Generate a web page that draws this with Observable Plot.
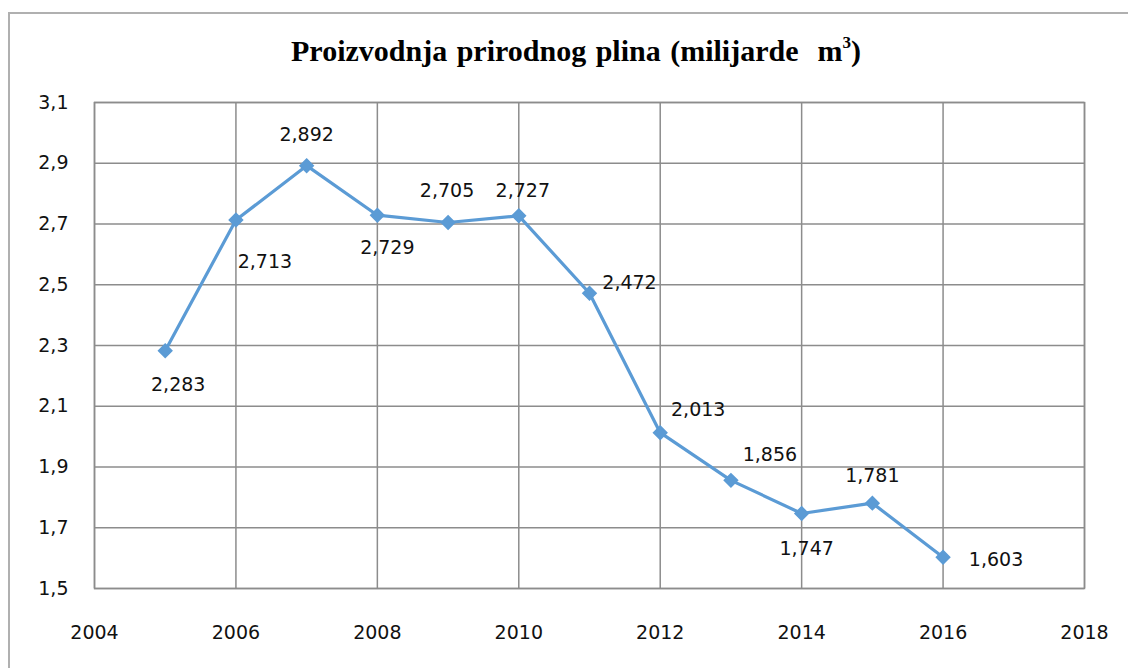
<!DOCTYPE html>
<html>
<head>
<meta charset="utf-8">
<script src="https://cdn.jsdelivr.net/npm/d3@7"></script>
<script src="https://cdn.jsdelivr.net/npm/@observablehq/plot@0.6"></script>
<style>
  html, body { margin: 0; padding: 0; background: #fff; }
  #wrap { position: relative; width: 1128px; height: 668px; overflow: hidden; }
  #frame { position: absolute; left: 8px; top: 12px; width: 1200px; height: 700px; border: 2px solid #b0b0b0; box-sizing: border-box; }
  #title { position: absolute; left: 0; width: 1152px; top: 34px; text-align: center; line-height: 34px;
    font-family: "Liberation Serif", serif; font-weight: bold; font-size: 30px; color: #000; word-spacing: 2px; }
  #title sup { font-size: 17px; position: relative; top: -2px; line-height: 0; }
  #chart { position: absolute; left: 0; top: 0; }
</style>
</head>
<body>
<div id="wrap">
  <div id="frame"></div>
  <div id="title">Proizvodnja prirodnog plina (milijarde&nbsp; m<sup>3</sup>)</div>
  <div id="chart"></div>
</div>
<script>
const years = [2005, 2006, 2007, 2008, 2009, 2010, 2011, 2012, 2013, 2014, 2015, 2016];
const values = [2.283, 2.713, 2.892, 2.729, 2.705, 2.727, 2.472, 2.013, 1.856, 1.747, 1.781, 1.603];
const xTicks = [2004, 2006, 2008, 2010, 2012, 2014, 2016, 2018];
const yTicks = [1.5, 1.7, 1.9, 2.1, 2.3, 2.5, 2.7, 2.9, 3.1];
// label offsets (px) relative to each point
const labelDx = [13, 29, 0, 10, -1, 4, 40, 38, 39, 5, 0, 53];
const labelDy = [34, 42, -31, 33, -32, -25, -10, -23, -25, 35, -27, 3];

const data = years.map((y, i) => ({year: y, value: values[i], dx: labelDx[i], dy: labelDy[i]}));
const fmt = v => v.toFixed(3).replace(".", ",");
const fmtTick = v => v.toFixed(1).replace(".", ",");

const labelMarks = data.map(d => Plot.text([d], {
  x: "year", y: "value", text: d => fmt(d.value), dx: d.dx, dy: d.dy,
  fill: "#111", fontSize: 19
}));

const chart = Plot.plot({
  width: 1128,
  height: 668,
  marginTop: 102,
  marginBottom: 80,
  marginLeft: 94,
  marginRight: 44,
  style: { fontFamily: "DejaVu Sans, sans-serif", fontSize: "19px", background: "transparent", color: "#111" },
  x: { domain: [2004, 2018], ticks: xTicks, tickFormat: d => String(d), label: null },
  y: { domain: [1.5, 3.1], ticks: yTicks, tickFormat: fmtTick, label: null },
  marks: [
    Plot.gridX(xTicks, { stroke: "#8c8c8c", strokeOpacity: 1, strokeWidth: 1.5 }),
    Plot.gridY(yTicks, { stroke: "#8c8c8c", strokeOpacity: 1, strokeWidth: 1.5 }),
    Plot.frame({ stroke: "#8c8c8c", strokeWidth: 1.5 }),
    Plot.axisX(xTicks, { tickSize: 0, tickPadding: 37, fontSize: 19, tickFormat: d => String(d) }),
    Plot.axisY(yTicks, { tickSize: 0, tickPadding: 26, fontSize: 19, tickFormat: fmtTick }),
    Plot.line(data, { x: "year", y: "value", stroke: "#5B9BD5", strokeWidth: 3.2 }),
    Plot.dot(data, { x: "year", y: "value", symbol: "diamond2", r: 6, fill: "#5B9BD5", stroke: "#5B9BD5" }),
    ...labelMarks
  ]
});
document.getElementById("chart").appendChild(chart);
</script>
</body>
</html>
